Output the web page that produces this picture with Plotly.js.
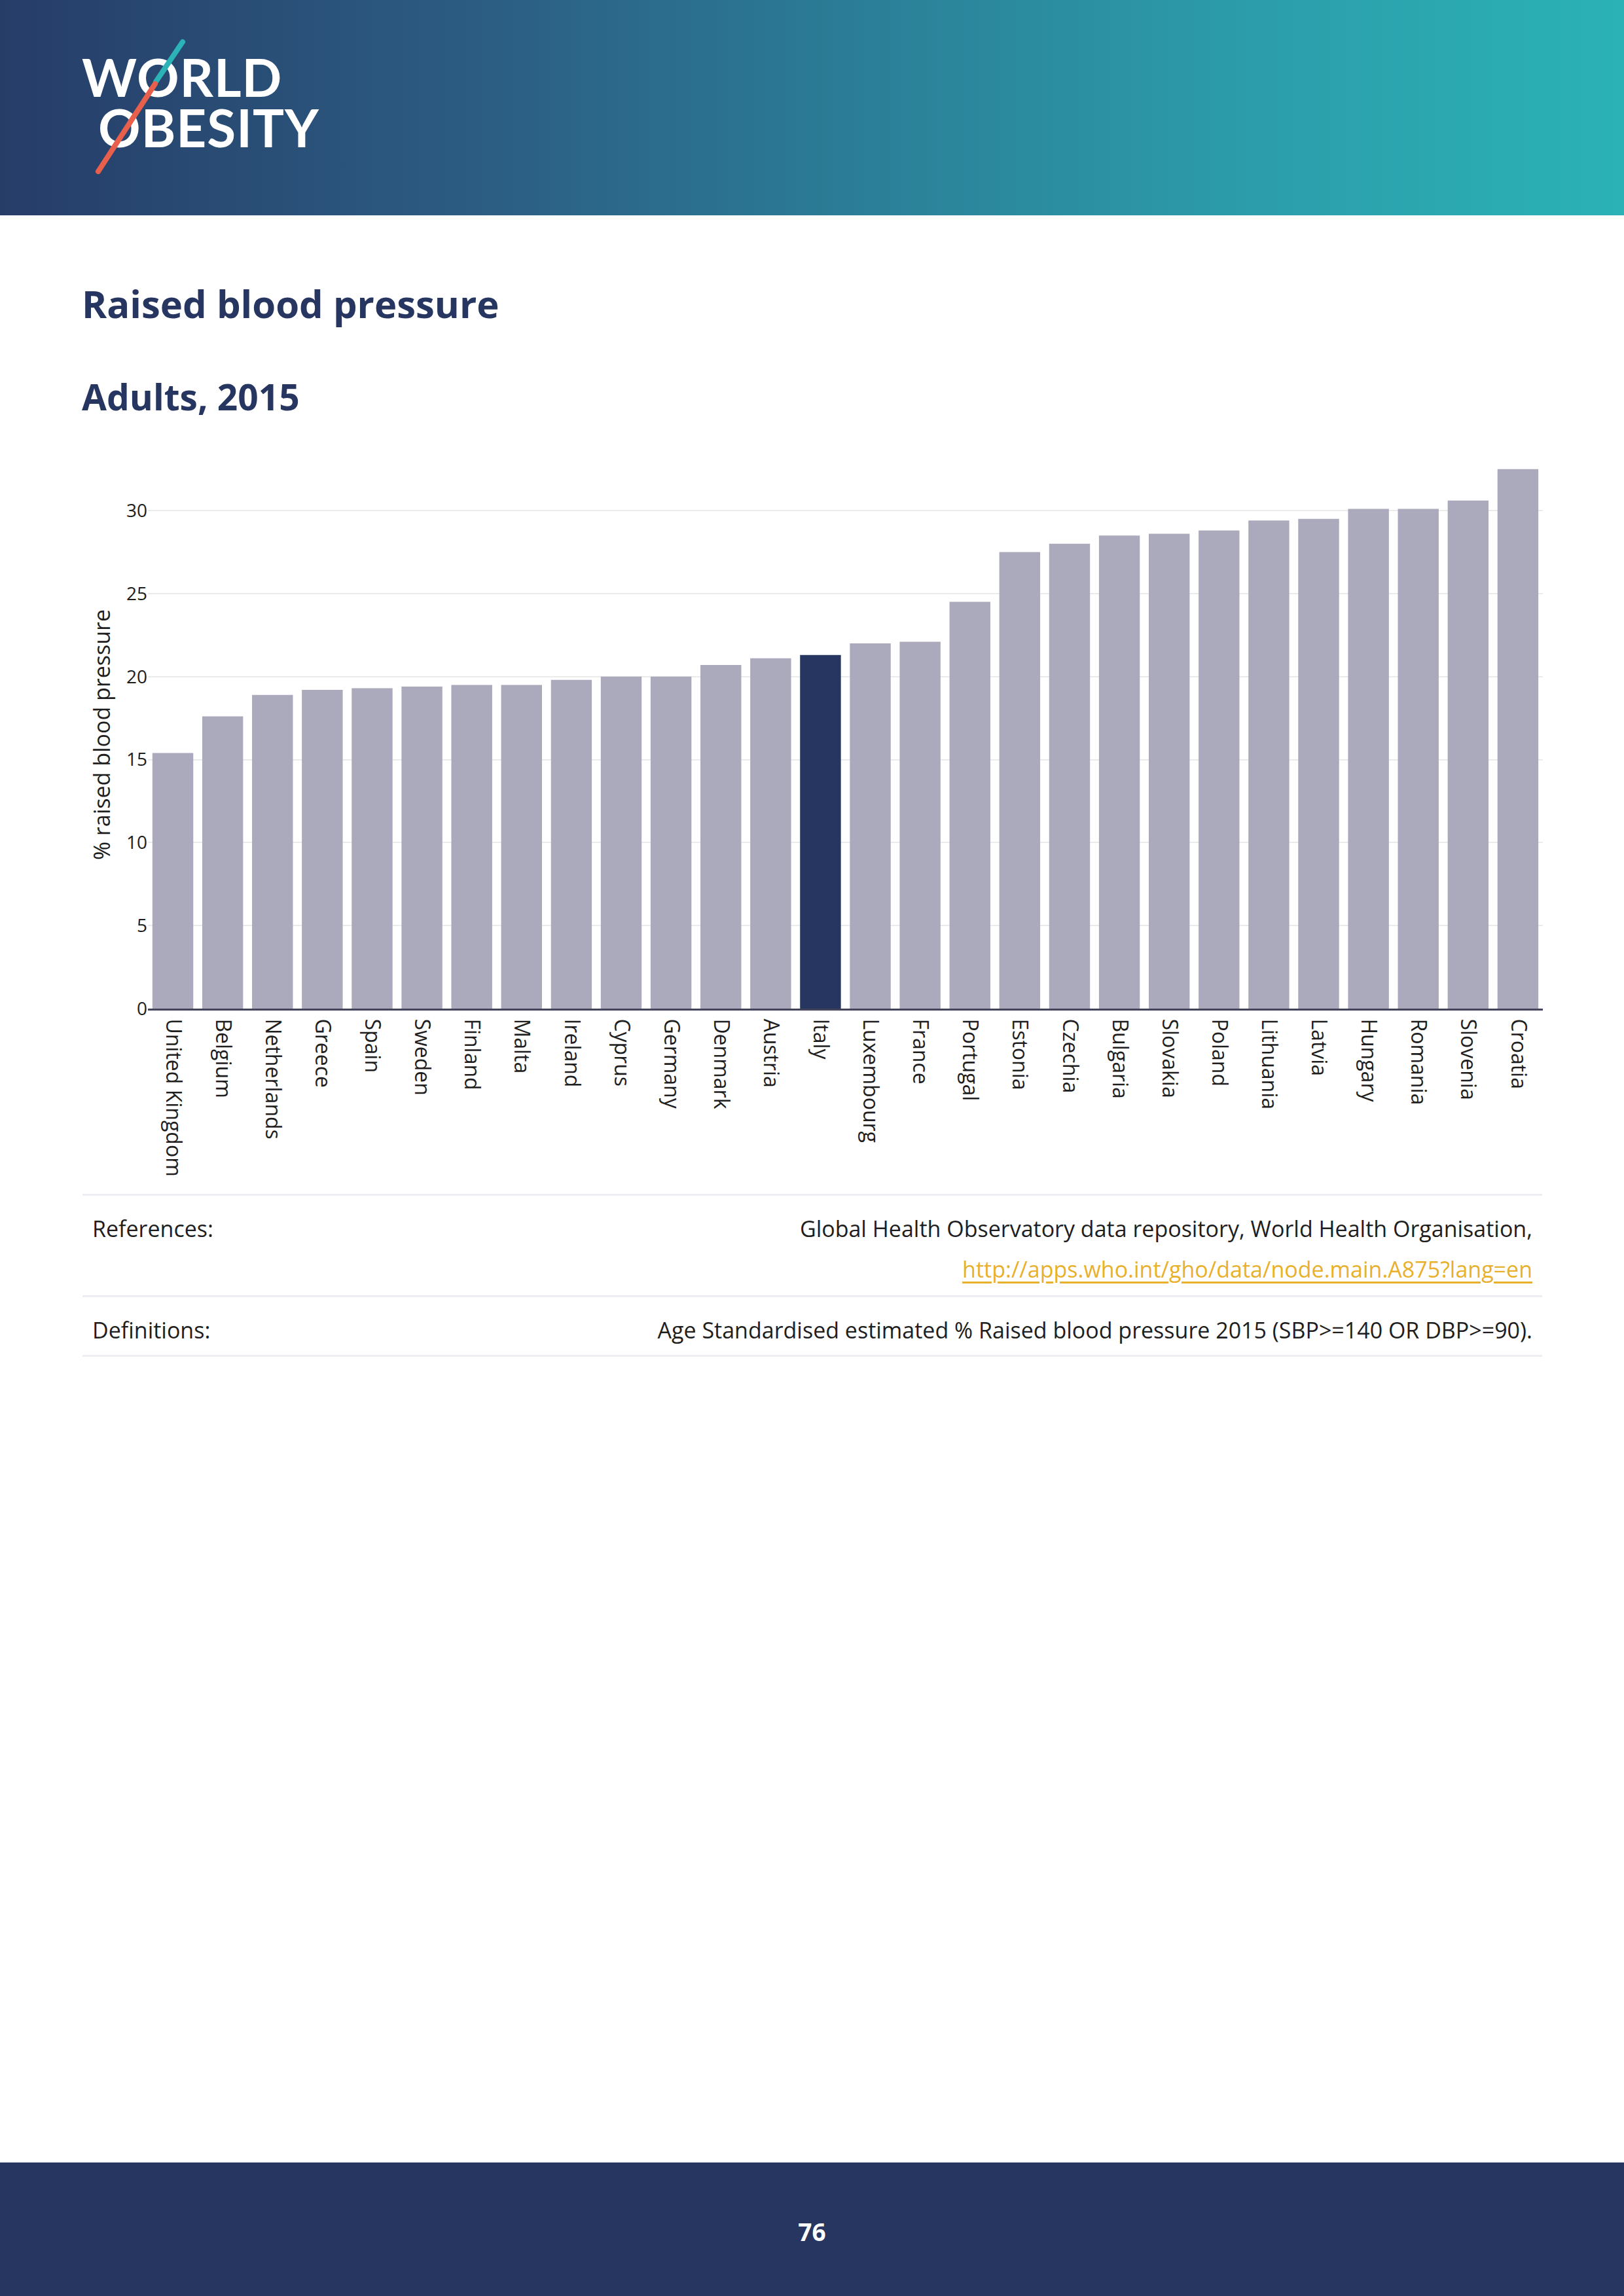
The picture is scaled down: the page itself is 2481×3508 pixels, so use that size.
<!DOCTYPE html>
<html>
<head>
<meta charset="utf-8">
<script src="https://cdn.plot.ly/plotly-3.0.1.min.js"></script>
<style>
  html, body { margin:0; padding:0; background:#ffffff; }
  body { width:2481px; height:3508px; position:relative; overflow:hidden; font-family:"Open Sans","Noto Sans",sans-serif; }
  #header { position:absolute; left:0; top:0; width:2481px; height:329px;
    background: linear-gradient(90deg, #263d68 0%, #2c5d83 30%, #2b8199 55%, #2c9eab 78%, #2ab2b6 100%); }
  #logo { position:absolute; left:0; top:79px; padding-left:150px; text-indent:-25px; white-space:pre-line;
    font-family:"Lato",sans-serif; font-weight:700; font-size:80px; line-height:77px; letter-spacing:1px; color:#ffffff; }
  #title { position:absolute; left:125px; top:429px; font-size:58px; font-weight:700; color:#263660; line-height:1.2; }
  #subtitle { position:absolute; left:125px; top:573px; font-size:55px; font-weight:700; color:#263660; line-height:1.2; }
  #chart { position:absolute; left:0; top:640px; width:2481px; height:1200px; }
  .rule { position:absolute; left:126px; width:2230px; height:3px; background:#eceef2; }
  .txt { position:absolute; font-size:34px; color:#1e1e1e; white-space:nowrap; line-height:1.3; }
  #footer { position:absolute; left:0; top:3304px; width:2481px; height:204px; background:#263660; }
  #page { position:absolute; left:0; width:2481px; top:3384px; text-align:center; color:#ffffff; font-size:37px; font-weight:700; }
</style>
</head>
<body>
<div id="header">
  <div id="logo">WORLD
OBESITY</div>
  <svg width="600" height="329" style="position:absolute;left:0;top:0;">
    <line x1="279" y1="64" x2="238" y2="125" stroke="#2bb3b8" stroke-width="8" stroke-linecap="round"/>
    <line x1="237" y1="128" x2="150" y2="262" stroke="#e8604c" stroke-width="8" stroke-linecap="round"/>
  </svg>
</div>
<div id="title">Raised blood pressure</div>
<div id="subtitle">Adults, 2015</div>
<div id="chart"></div>

<div class="rule" style="top:1824px;"></div>
<div class="txt" style="left:141px; top:1855px;">References:</div>
<div class="txt" style="right:140px; top:1855px;">Global Health Observatory data repository, World Health Organisation,</div>
<div class="txt" style="right:140px; top:1917px; color:#e9b02c; text-decoration:underline; text-underline-offset:6px;">http://apps.who.int/gho/data/node.main.A875?lang=en</div>
<div class="rule" style="top:1979px;"></div>
<div class="txt" style="left:141px; top:2010px;">Definitions:</div>
<div class="txt" style="right:140px; top:2010px;">Age Standardised estimated % Raised blood pressure 2015 (SBP&gt;=140 OR DBP&gt;=90).</div>
<div class="rule" style="top:2070px;"></div>

<div id="footer"></div>
<div id="page">76</div>

<script>
const countries = ["United Kingdom","Belgium","Netherlands","Greece","Spain","Sweden","Finland","Malta","Ireland","Cyprus","Germany","Denmark","Austria","Italy","Luxembourg","France","Portugal","Estonia","Czechia","Bulgaria","Slovakia","Poland","Lithuania","Latvia","Hungary","Romania","Slovenia","Croatia"];
const values = [15.4, 17.6, 18.9, 19.2, 19.3, 19.4, 19.5, 19.5, 19.8, 20.0, 20.0, 20.7, 21.1, 21.3, 22.0, 22.1, 24.5, 27.5, 28.0, 28.5, 28.6, 28.8, 29.4, 29.5, 30.1, 30.1, 30.6, 32.5];
const highlightCountry = "Italy";
const yTicks = [0, 5, 10, 15, 20, 25, 30];

const barColors = countries.map(c => c === highlightCountry ? "#263660" : "#aba9bc");

const trace = {
  type: "bar",
  x: countries,
  y: values,
  marker: { color: barColors, line: { width: 0 } },
  hoverinfo: "x+y"
};

const layout = {
  width: 2481,
  height: 1200,
  margin: { l: 226, r: 124, t: 64, b: 299 },
  paper_bgcolor: "rgba(0,0,0,0)",
  plot_bgcolor: "rgba(0,0,0,0)",
  bargap: 0.18,
  showlegend: false,
  font: { family: "Open Sans, Noto Sans, sans-serif", color: "#1e1e1e" },
  xaxis: {
    type: "category",
    tickangle: 90,
    tickfont: { size: 32, color: "#1e1e1e" },
    showline: true,
    linecolor: "#44455a",
    linewidth: 3,
    showgrid: false,
    ticks: "outside",
    ticklen: 6,
    tickcolor: "rgba(0,0,0,0)",
    automargin: false
  },
  yaxis: {
    range: [0, 33],
    tickvals: yTicks,
    ticktext: yTicks.map(String),
    tickfont: { size: 28, color: "#1e1e1e" },
    showgrid: true,
    gridcolor: "#ebebeb",
    gridwidth: 2,
    zeroline: false,
    showline: false,
    ticks: "",
    title: { text: "% raised blood pressure", font: { size: 34, color: "#1e1e1e" }, standoff: 14 },
    automargin: false
  }
};

Plotly.newPlot("chart", [trace], layout, { displayModeBar: false, staticPlot: true });
</script>
</body>
</html>
